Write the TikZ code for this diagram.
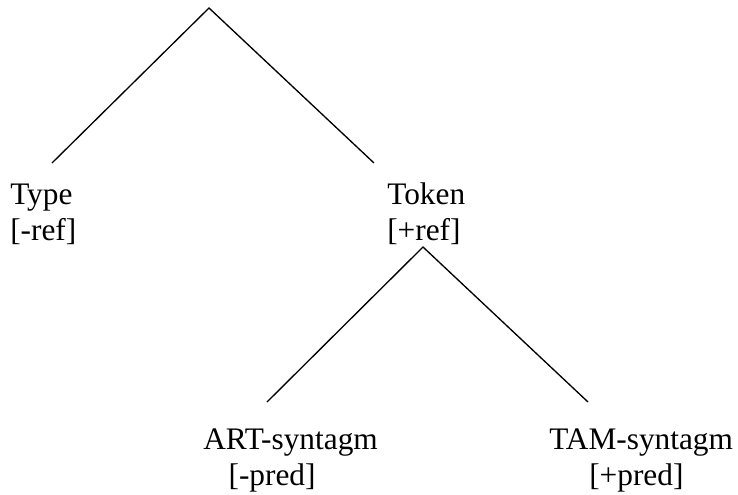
\documentclass[tikz,border=0pt]{standalone}
\usepackage{fontspec}
\setmainfont{Liberation Serif}
\usepackage{tikz}
\usetikzlibrary{positioning}

\begin{document}
\begin{tikzpicture}[
    x=0.75pt, y=-0.75pt,
    feature/.style={inner sep=0pt, align=left, anchor=base west, font=\fontsize{23.5pt}{27pt}\selectfont},
    branch/.style={line width=1pt, color=black}
]
\useasboundingbox (0,0) rectangle (738,494);

% Upper split
\coordinate (top) at (209,8);
\coordinate (typeend) at (52,163);
\coordinate (tokenend) at (374,163);

\node[feature] (type) at (10,240) {Type\\{}[-ref]};
\node[feature] (token) at (387,240) {Token\\{}[+ref]};

\draw[branch] (typeend) -- (top) -- (tokenend);

% Lower split under Token
\coordinate (mid) at (423,247);
\coordinate (artend) at (267,402);
\coordinate (tamend) at (588,402);

\node[feature] (art) at (203,485) {ART-syntagm\\\hspace*{19pt}[-pred]};
\node[feature] (tam) at (549,485) {TAM-syntagm\\\hspace*{30pt}[+pred]};

\draw[branch] (artend) -- (mid) -- (tamend);

\end{tikzpicture}
\end{document}
